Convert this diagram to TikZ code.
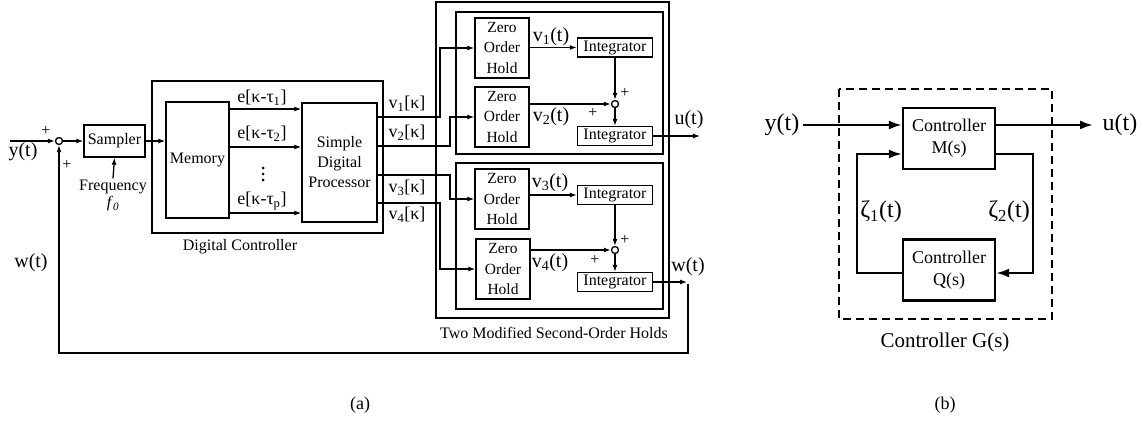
\documentclass[tikz,border=0pt]{standalone}
\usepackage{fontspec}
\setmainfont{Liberation Serif}
\usetikzlibrary{arrows.meta}
\begin{document}
\begin{tikzpicture}[x=1pt,y=-1pt,
  la/.style={line width=1.3pt},
  ar/.style={la,-{Latex[length=7pt,width=5pt]}},
  blk/.style={draw,la,inner sep=0pt,align=center,font=\fontsize{16}{20}\selectfont},
  zoh/.style={blk,minimum width=54pt,minimum height=60pt,font=\fontsize{15.5}{20.5}\selectfont},
  integ/.style={blk,minimum width=75pt,minimum height=19pt},
  sumc/.style={draw,circle,la,minimum size=7pt,inner sep=0pt},
  sig/.style={font=\fontsize{20}{20}\selectfont, inner sep=0pt},
  lab/.style={font=\fontsize{18}{18}\selectfont, inner sep=0pt},
  plus/.style={font=\fontsize{16}{16}\selectfont, inner sep=0pt},
  captxt/.style={font=\fontsize{16}{16}\selectfont, inner sep=0pt},
  dotn/.style={circle,fill,inner sep=0pt,minimum size=3pt},
  lb/.style={line width=2.3pt},
  arb/.style={lb,-{Latex[length=13pt,width=9pt]}},
  blkb/.style={draw,lb,inner sep=0pt,align=center,minimum width=92pt,minimum height=61pt,font=\fontsize{18}{22}\selectfont},
  sigb/.style={font=\fontsize{24}{24}\selectfont, inner sep=0pt},
]
\useasboundingbox (0,0) rectangle (1143,436);

% ---------------- part (a) ----------------
\node[sumc] (s0) at (59,141) {};
\coordinate (yin) at (10,141);
\draw[ar] (yin) -- (s0);
\node[sig] (ylab) at (23,152) {y(t)};
\node[plus] (p01) at (46,131) {+};
\node[plus] (p02) at (67,165) {+};
\node[blk, minimum width=61pt, minimum height=32pt] (samp) at (114.5,141) {Sampler};
\draw[ar] (s0) -- (samp);
\node[captxt, inner sep=1.5pt] (freq) at (113,187) {Frequency};
\node[captxt] (f0) at (113,204) {\textit{f}\textsubscript{\textit{0}}};
\draw[ar] (freq.north) -- (samp.south);

% digital controller
\draw[la] (152,81) rectangle (383,233);
\node[blk, minimum width=63pt, minimum height=116pt] (mem) at (197.5,160) {Memory};
\node[blk, minimum width=75pt, minimum height=119pt] (proc) at (339.5,162.5) {Simple\\Digital\\Processor};
\draw[ar] (samp) -- (samp -| mem.west);
\coordinate (e1) at (0,109);
\coordinate (e2) at (0,147);
\coordinate (ep) at (0,213);
\draw[ar] (mem.east |- e1) -- (proc.west |- e1);
\draw[ar] (mem.east |- e2) -- (proc.west |- e2);
\draw[ar] (mem.east |- ep) -- (proc.west |- ep);
\node[lab] (le1) at (262,98) {e[κ-τ\textsubscript{1}]};
\node[lab] (le2) at (262,134) {e[κ-τ\textsubscript{2}]};
\node[lab] (lep) at (262,201) {e[κ-τ\textsubscript{p}]};
\node[dotn] (d1) at (263,168) {};
\node[dotn] (d2) at (263,174) {};
\node[dotn] (d3) at (263,180) {};
\node[captxt] (dclab) at (240,247) {Digital Controller};

% holds
\draw[la] (436,2) rectangle (669,318);
\draw[la] (456,12) rectangle (663,154);
\draw[la] (456,163) rectangle (663,309);
\node[zoh] (z1) at (502,48) {Zero\\Order\\Hold};
\node[zoh] (z2) at (502,117) {Zero\\Order\\Hold};
\node[zoh] (z3) at (502,199) {Zero\\Order\\Hold};
\node[zoh] (z4) at (503,269) {Zero\\Order\\Hold};
\node[integ] (i1) at (615,47.5) {Integrator};
\node[integ] (i2) at (615,136) {Integrator};
\node[integ] (i3) at (615,195) {Integrator};
\node[integ] (i4) at (615,282) {Integrator};
\node[sumc] (s1) at (615,104) {};
\node[sumc] (s2) at (615,250) {};

% processor outputs
\coordinate (o1) at (0,117);
\coordinate (o2) at (0,146);
\coordinate (o3) at (0,175);
\coordinate (o4) at (0,203);
\coordinate (t1) at (440,0);
\coordinate (t2) at (450,0);
\draw[ar] (proc.east |- o1) -| (t1 |- z1) -- (z1.west);
\draw[ar] (proc.east |- o2) -| (t2 |- z2) -- (z2.west);
\draw[ar] (proc.east |- o3) -| (t2 |- z3) -- (z3.west);
\draw[ar] (proc.east |- o4) -| (t1 |- z4) -- (z4.west);
\node[lab] (lv1) at (407,104) {v\textsubscript{1}[κ]};
\node[lab] (lv2) at (407,133) {v\textsubscript{2}[κ]};
\node[lab] (lv3) at (407,188) {v\textsubscript{3}[κ]};
\node[lab] (lv4) at (407,215) {v\textsubscript{4}[κ]};

% inside holds
\draw[ar] (z1.east |- i1) -- (i1.west);
\draw[ar] (i1) -- (s1);
\draw[ar] (z2.east |- s1) -- (s1.west);
\draw[ar] (s1) -- (i2);
\draw[ar] (z3.east |- i3) -- (i3.west);
\draw[ar] (i3) -- (s2);
\draw[ar] (z4.east |- s2) -- (s2.west);
\draw[ar] (s2) -- (i4);
\node[sig] (lv1t) at (551,37) {v\textsubscript{1}(t)};
\node[sig] (lv2t) at (551,117) {v\textsubscript{2}(t)};
\node[sig] (lv3t) at (550,183) {v\textsubscript{3}(t)};
\node[sig] (lv4t) at (550,263) {v\textsubscript{4}(t)};
\node[plus] (p11) at (625,93) {+};
\node[plus] (p12) at (593,113) {+};
\node[plus] (p21) at (625,240) {+};
\node[plus] (p22) at (595,260) {+};

\coordinate (uo) at (700,0);
\draw[ar] (i2.east) -- (i2.east -| uo);
\node[sig] (ulab) at (689,120) {u(t)};
\coordinate (wo) at (687,0);
\draw[ar] (i4.east) -- (i4.east -| wo);
\node[sig] (wlab) at (688,267) {w(t)};
\coordinate (wt) at (688,284);
\coordinate (fb) at (688,353);
\draw[ar] (wt) -- (fb) -| (s0.south);
\node[sig] (wlab2) at (31,263) {w(t)};
\node[captxt] (holdlab) at (554,333) {Two Modified Second-Order Holds};

\node[lab] (alab) at (360,405) {(a)};
\node[lab] (blab) at (945,405) {(b)};

% ---------------- part (b) ----------------
\draw[line width=1.4pt, dash pattern=on 8pt off 5pt] (839,89) rectangle (1052,319);
\node[blkb] (M) at (949,138.5) {Controller\\M(s)};
\node[blkb] (Q) at (949,270) {Controller\\Q(s)};
\coordinate (yb) at (803,125);
\draw[arb] (yb) -- (yb -| M.west);
\node[sigb] (yblab) at (782,125) {y(t)};
\coordinate (ub) at (1093,125);
\draw[arb] (M.east |- ub) -- (ub);
\node[sigb] (ublab) at (1120,125) {u(t)};
\coordinate (r1) at (1033,154);
\coordinate (r2) at (1033,273);
\coordinate (l1) at (857,154);
\coordinate (l2) at (857,273);
\draw[arb] (M.east |- r1) -- (r1) -- (r2) -- (Q.east |- r2);
\draw[arb] (Q.west |- l2) -- (l2) -- (l1) -- (M.west |- l1);
\node[sigb] (z1lab) at (881,212) {ζ\textsubscript{1}(t)};
\node[sigb] (z2lab) at (1009,212) {ζ\textsubscript{2}(t)};
\node[font=\fontsize{21}{21}\selectfont, inner sep=0pt] (glab) at (945,342) {Controller G(s)};
\end{tikzpicture}
\end{document}
